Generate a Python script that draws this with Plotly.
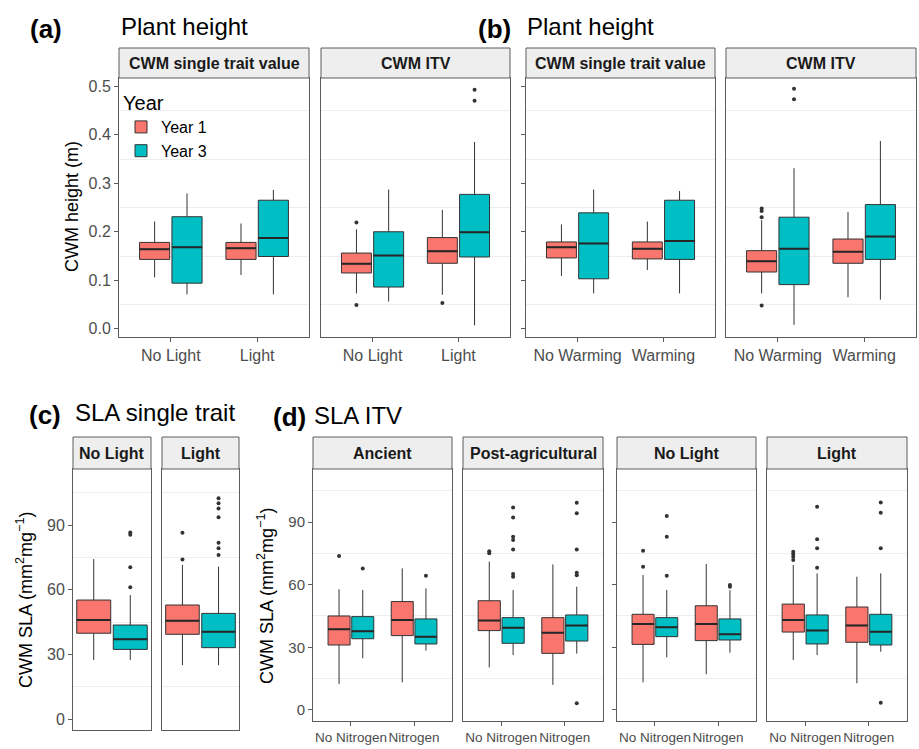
import plotly.graph_objects as go

# ---------------- data ----------------
light = ["No Light", "Light"]
warming = ["No Warming", "Warming"]
nitrogen = ["No Nitrogen", "Nitrogen"]
years = ["Year 1", "Year 3"]

# box stats per category: [lower whisker, q1, median, q3, upper whisker]
# (a) Plant height, light treatment
a_single_y1 = [[0.106, 0.143, 0.164, 0.178, 0.221], [0.111, 0.143, 0.166, 0.178, 0.217]]
a_single_y3 = [[0.071, 0.094, 0.168, 0.231, 0.279], [0.071, 0.149, 0.187, 0.265, 0.286]]
a_itv_y1 = [[0.073, 0.115, 0.134, 0.156, 0.205], [0.070, 0.135, 0.160, 0.188, 0.245]]
a_itv_y3 = [[0.056, 0.086, 0.151, 0.200, 0.287], [0.007, 0.148, 0.199, 0.277, 0.385]]
a_itv_y1_out = [("No Light", 0.219), ("No Light", 0.049), ("Light", 0.053)]
a_itv_y3_out = [("Light", 0.470), ("Light", 0.493)]

# (b) Plant height, warming treatment
b_single_y1 = [[0.109, 0.146, 0.168, 0.179, 0.215], [0.121, 0.144, 0.165, 0.179, 0.221]]
b_single_y3 = [[0.073, 0.103, 0.176, 0.239, 0.287], [0.073, 0.143, 0.181, 0.265, 0.284]]
b_itv_y1 = [[0.073, 0.117, 0.139, 0.161, 0.224], [0.065, 0.135, 0.159, 0.185, 0.241]]
b_itv_y3 = [[0.008, 0.091, 0.165, 0.230, 0.331], [0.060, 0.143, 0.190, 0.256, 0.387]]
b_itv_y1_out = [("No Warming", 0.230), ("No Warming", 0.243), ("No Warming", 0.248), ("No Warming", 0.048)]
b_itv_y3_out = [("No Warming", 0.473), ("No Warming", 0.495)]

# (c) SLA single trait (facets: No Light, Light)
c_y1 = [[27.4, 39.8, 45.9, 55.2, 74.2], [25.0, 39.3, 45.6, 52.9, 71.5]]
c_y3 = [[27.4, 32.3, 37.0, 43.6, 57.5], [25.0, 33.1, 40.5, 49.0, 70.7]]
c_y1_out = [("Light", 74.0), ("Light", 86.4)]
c_y3_out = [("No Light", 61.1), ("No Light", 70.4), ("No Light", 85.5), ("No Light", 86.5),
            ("Light", 76.1), ("Light", 79.2), ("Light", 81.8), ("Light", 93.6),
            ("Light", 97.7), ("Light", 100.1), ("Light", 102.4)]

# (d) SLA ITV, nitrogen treatment
d_anc_y1 = [[12.4, 31.1, 38.6, 45.0, 57.8], [13.2, 35.6, 43.1, 51.9, 67.8]]
d_anc_y3 = [[24.7, 34.1, 37.7, 44.7, 57.4], [28.4, 31.6, 35.1, 43.6, 58.2]]
d_anc_y1_out = [("No Nitrogen", 73.7)]
d_anc_y3_out = [("No Nitrogen", 67.8), ("Nitrogen", 64.3)]
d_post_y1 = [[20.4, 38.0, 42.8, 52.3, 71.0], [12.0, 27.1, 37.0, 44.2, 69.7]]
d_post_y3 = [[26.3, 31.9, 39.4, 44.2, 57.4], [27.0, 33.0, 40.4, 45.5, 59.0]]
d_post_y1_out = [("No Nitrogen", 75.0), ("No Nitrogen", 76.0)]
d_post_y3_out = [("No Nitrogen", 63.8), ("No Nitrogen", 65.1), ("No Nitrogen", 76.9), ("No Nitrogen", 81.4),
                 ("No Nitrogen", 83.0), ("No Nitrogen", 92.2), ("No Nitrogen", 97.0),
                 ("Nitrogen", 3.2), ("Nitrogen", 64.5), ("Nitrogen", 65.7), ("Nitrogen", 76.9),
                 ("Nitrogen", 94.2), ("Nitrogen", 99.2)]
d_nol_y1 = [[13.2, 31.4, 41.2, 45.8, 64.6], [17.1, 33.2, 41.2, 49.9, 69.9]]
d_nol_y3 = [[25.2, 35.1, 39.6, 44.2, 57.4], [27.4, 33.5, 36.2, 43.6, 57.4]]
d_nol_y1_out = [("No Nitrogen", 68.6), ("No Nitrogen", 76.3)]
d_nol_y3_out = [("No Nitrogen", 64.3), ("No Nitrogen", 83.0), ("No Nitrogen", 92.9),
                ("Nitrogen", 59.0), ("Nitrogen", 59.8)]
d_lig_y1 = [[23.9, 37.3, 43.1, 50.7, 69.4], [12.8, 32.4, 40.5, 49.3, 63.8]]
d_lig_y3 = [[26.3, 31.6, 38.1, 45.5, 65.4], [27.9, 31.1, 37.5, 45.8, 65.4]]
d_lig_y1_out = [("No Nitrogen", 71.8), ("No Nitrogen", 73.4), ("No Nitrogen", 74.7), ("No Nitrogen", 75.8)]
d_lig_y3_out = [("No Nitrogen", 68.1), ("No Nitrogen", 77.4), ("No Nitrogen", 81.7), ("No Nitrogen", 97.3),
                ("Nitrogen", 3.5), ("Nitrogen", 77.4), ("Nitrogen", 94.5), ("Nitrogen", 99.4)]

# ---------------- style ----------------
W, H = 919, 749
RED = "#F8766D"
TEAL = "#00BFC4"
EDGE = "#333333"
FRAME = "#5c5c5c"
GRID = "#eeeeee"
TICKC = "#4d4d4d"
FONT = "Liberation Sans, Arial, sans-serif"


def fx(p):
    return p / W


def fy(p):
    return 1 - p / H


def only(outs, cat):
    return [o for o in outs if o[0] == cat]


A_RANGE = [-0.017, 0.517]
C_RANGE = [-5.1, 116.0]
D_RANGE = [-5.3, 115.4]

panels = [
    dict(cats=light, s1=a_single_y1, s3=a_single_y3, o1=[], o3=[], strip="CWM single trait value",
         px=(119, 309), py=(78, 337), yr=A_RANGE, ylab=True, ytk=True, xlab=True, xfs=16, yfs=16, kind="h"),
    dict(cats=light, s1=a_itv_y1, s3=a_itv_y3, o1=a_itv_y1_out, o3=a_itv_y3_out, strip="CWM ITV",
         px=(321, 510), py=(78, 337), yr=A_RANGE, ylab=False, ytk=False, xlab=True, xfs=16, yfs=16, kind="h"),
    dict(cats=warming, s1=b_single_y1, s3=b_single_y3, o1=[], o3=[], strip="CWM single trait value",
         px=(526, 715), py=(78, 337), yr=A_RANGE, ylab=False, ytk=True, xlab=True, xfs=16, yfs=16, kind="h"),
    dict(cats=warming, s1=b_itv_y1, s3=b_itv_y3, o1=b_itv_y1_out, o3=b_itv_y3_out, strip="CWM ITV",
         px=(726, 916), py=(78, 337), yr=A_RANGE, ylab=False, ytk=False, xlab=True, xfs=16, yfs=16, kind="h"),
    dict(cats=light[:1], s1=c_y1[:1], s3=c_y3[:1], o1=only(c_y1_out, "No Light"), o3=only(c_y3_out, "No Light"),
         strip="No Light", px=(73, 151), py=(469, 730), yr=C_RANGE, ylab=True, ytk=True, xlab=False, xfs=15, yfs=16, kind="c"),
    dict(cats=light[1:], s1=c_y1[1:], s3=c_y3[1:], o1=only(c_y1_out, "Light"), o3=only(c_y3_out, "Light"),
         strip="Light", px=(162, 239), py=(469, 730), yr=C_RANGE, ylab=False, ytk=False, xlab=False, xfs=15, yfs=16, kind="c"),
    dict(cats=nitrogen, s1=d_anc_y1, s3=d_anc_y3, o1=d_anc_y1_out, o3=d_anc_y3_out, strip="Ancient",
         px=(313, 452), py=(469, 721), yr=D_RANGE, ylab=True, ytk=True, xlab=True, xfs=13.5, yfs=15, kind="d"),
    dict(cats=nitrogen, s1=d_post_y1, s3=d_post_y3, o1=d_post_y1_out, o3=d_post_y3_out, strip="Post-agricultural",
         px=(463, 603), py=(469, 721), yr=D_RANGE, ylab=False, ytk=False, xlab=True, xfs=13.5, yfs=15, kind="d"),
    dict(cats=nitrogen, s1=d_nol_y1, s3=d_nol_y3, o1=d_nol_y1_out, o3=d_nol_y3_out, strip="No Light",
         px=(617, 756), py=(469, 721), yr=D_RANGE, ylab=False, ytk=True, xlab=True, xfs=13.5, yfs=15, kind="d"),
    dict(cats=nitrogen, s1=d_lig_y1, s3=d_lig_y3, o1=d_lig_y1_out, o3=d_lig_y3_out, strip="Light",
         px=(767, 907), py=(469, 721), yr=D_RANGE, ylab=False, ytk=False, xlab=True, xfs=13.5, yfs=15, kind="d"),
]

fig = go.Figure()
axes = {}
shapes = []
annotations = []

for i, p in enumerate(panels, start=1):
    sfx = "" if i == 1 else str(i)
    xa, ya = "x" + sfx, "y" + sfx
    ag = "panel%d" % i
    for name, stats, outs, color in [(years[0], p["s1"], p["o1"], RED), (years[1], p["s3"], p["o3"], TEAL)]:
        fig.add_trace(go.Box(
            x=p["cats"],
            lowerfence=[s[0] for s in stats], q1=[s[1] for s in stats], median=[s[2] for s in stats],
            q3=[s[3] for s in stats], upperfence=[s[4] for s in stats],
            name=name, showlegend=(i == 1), fillcolor=color,
            line=dict(color=EDGE, width=1), whiskerwidth=0, boxpoints=False,
            orientation="v", xaxis=xa, yaxis=ya, alignmentgroup=ag, offsetgroup=name,
            hoverinfo="skip",
        ))
        # thicker median bar (ggplot style), drawn from the same median values
        med = [s[2] for s in stats]
        fig.add_trace(go.Box(
            x=p["cats"], lowerfence=med, q1=med, median=med, q3=med, upperfence=med,
            name=name, showlegend=False, fillcolor="rgba(0,0,0,0)",
            line=dict(color="#262626", width=2), whiskerwidth=0, boxpoints=False,
            orientation="v", xaxis=xa, yaxis=ya, alignmentgroup=ag, offsetgroup=name,
            hoverinfo="skip",
        ))
        if outs:
            fig.add_trace(go.Scatter(
                x=[o[0] for o in outs], y=[o[1] for o in outs], mode="markers",
                marker=dict(color=EDGE, size=4), showlegend=False, orientation="v",
                xaxis=xa, yaxis=ya, alignmentgroup=ag, offsetgroup=name, hoverinfo="skip",
            ))

    x0, x1 = p["px"]
    y0, y1 = p["py"]
    xr = [-0.4, 0.4] if p["kind"] == "c" else [-0.6, 1.6]
    axes["xaxis" + sfx] = dict(
        domain=[fx(x0), fx(x1)], anchor=ya, type="category", range=xr,
        showline=True, mirror=True, linecolor=FRAME, linewidth=1,
        ticks="outside" if p["xlab"] else "", ticklen=4, tickcolor=FRAME, tickangle=0,
        showticklabels=p["xlab"], tickfont=dict(size=p["xfs"], color=TICKC, family=FONT),
        showgrid=False, zeroline=False, fixedrange=True,
    )
    if p["kind"] == "h":
        ydt, ymin, yfmt = 0.1, 0.05, ".1f"
    else:
        ydt, ymin, yfmt = 30, 15, "d"
    axes["yaxis" + sfx] = dict(
        domain=[fy(y1), fy(y0)], anchor=xa, range=p["yr"], tick0=0, dtick=ydt, tickformat=yfmt,
        showline=True, mirror=True, linecolor=FRAME, linewidth=1,
        ticks="outside" if p["ytk"] else "", ticklen=4, tickcolor=FRAME,
        showticklabels=p["ylab"], tickfont=dict(size=p["yfs"], color=TICKC, family=FONT),
        showgrid=False, zeroline=False, fixedrange=True,
        minor=dict(tick0=0, dtick=ymin, showgrid=True, gridcolor=GRID, gridwidth=1, ticks=""),
    )
    # facet strip
    st_top = 48 if p["kind"] == "h" else 437
    shapes.append(dict(type="rect", xref="paper", yref="paper",
                       x0=fx(x0), x1=fx(x1), y0=fy(y0), y1=fy(st_top),
                       fillcolor="#eeeeee", line=dict(color=FRAME, width=1), layer="above"))
    annotations.append(dict(xref="paper", yref="paper", x=fx((x0 + x1) / 2), y=fy((st_top + y0) / 2),
                            text="<b>%s</b>" % p["strip"], showarrow=False, xanchor="center", yanchor="middle",
                            font=dict(size=16, color="#1a1a1a", family=FONT)))

# panel tags and titles
for tag, tx, title, ttx, ty in [("(a)", 28, "Plant height", 119, 29), ("(b)", 476, "Plant height", 525, 29),
                                ("(c)", 27, "SLA single trait", 73, 415), ("(d)", 271, "SLA ITV", 312, 417)]:
    annotations.append(dict(xref="paper", yref="paper", x=fx(tx), y=fy(ty), text="<b>%s</b>" % tag,
                            showarrow=False, xanchor="left", yanchor="middle",
                            font=dict(size=26, color="#000000", family=FONT)))
    annotations.append(dict(xref="paper", yref="paper", x=fx(ttx), y=fy(ty - 2), text=title,
                            showarrow=False, xanchor="left", yanchor="middle",
                            font=dict(size=24, color="#000000", family=FONT)))

# y axis titles
for text, tx, ty in [("CWM height (m)", 72, 207),
                     ("CWM SLA (mm<sup>2</sup>mg<sup>−1</sup>)", 24, 600),
                     ("CWM SLA (mm<sup>2</sup>mg<sup>−1</sup>)", 265, 596)]:
    annotations.append(dict(xref="paper", yref="paper", x=fx(tx), y=fy(ty), text=text, textangle=-90,
                            showarrow=False, xanchor="center", yanchor="middle",
                            font=dict(size=18, color="#000000", family=FONT)))

fig.update_layout(
    width=W, height=H, margin=dict(l=0, r=0, t=0, b=0),
    paper_bgcolor="white", plot_bgcolor="white",
    font=dict(family=FONT, color="#000000"),
    boxmode="group", boxgap=0.25, boxgroupgap=0.07,
    scattermode="group", scattergap=0.25,
    showlegend=True,
    legend=dict(x=fx(121), y=fy(84), xanchor="left", yanchor="top",
                title=dict(text="Year", font=dict(size=20, family=FONT)),
                font=dict(size=16, family=FONT), bgcolor="rgba(0,0,0,0)",
                tracegroupgap=0, itemwidth=30),
    shapes=shapes, annotations=annotations,
    **axes,
)

fig.write_html("out.html")
